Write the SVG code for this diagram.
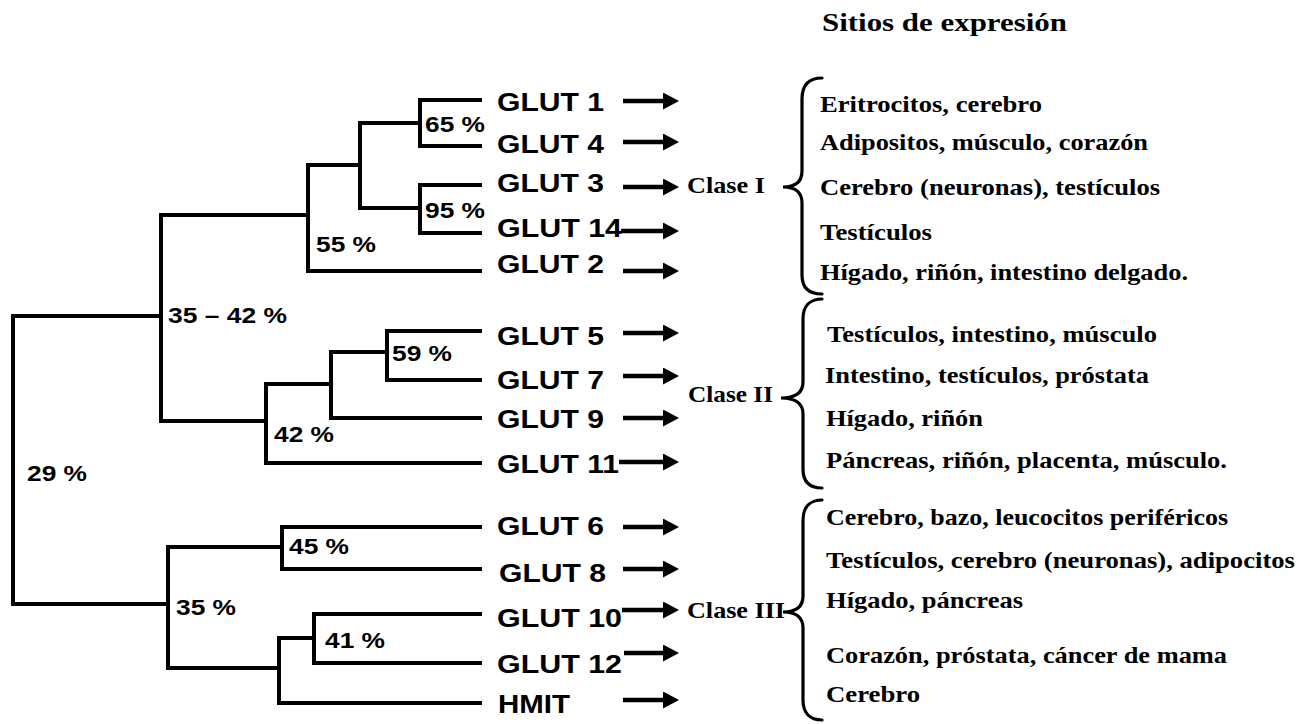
<svg xmlns="http://www.w3.org/2000/svg" width="1302" height="724" viewBox="0 0 1302 724">
<style>
.t{stroke:#000;stroke-width:4;fill:none;stroke-linecap:square}
.a{stroke:#000;stroke-width:4.5;fill:none}
.b{stroke:#000;stroke-width:3.2;fill:none;stroke-linecap:round}
.g{font-family:"Liberation Sans",Arial,sans-serif;font-weight:bold;font-size:26.5px;fill:#000}
.p{font-family:"Liberation Sans",Arial,sans-serif;font-weight:bold;font-size:22px;fill:#000}
.s{font-family:"Liberation Serif","Times New Roman",serif;font-weight:bold;font-size:23.5px;fill:#000}
.h{font-family:"Liberation Serif","Times New Roman",serif;font-weight:bold;font-size:25px;fill:#000}
</style>
<defs>
<marker id="ah" markerUnits="userSpaceOnUse" markerWidth="16" markerHeight="17" viewBox="0 0 16 17" refX="0" refY="8.5" orient="auto">
<path d="M0,0 L16,8.5 L0,17 z" fill="#000"/>
</marker>
</defs>
<rect width="1302" height="724" fill="#fff"/>
<g id="connectors">
<g id="tree">
<path class="t" d="M13,316 V604 M13,316 H161 M13,604 H168"/>
<path class="t" d="M161,215 V421 M161,215 H308 M161,421 H266"/>
<path class="t" d="M308,165 V271 M308,165 H360 M308,271 H480"/>
<path class="t" d="M360,123 V208 M360,123 H420 M360,208 H420"/>
<path class="t" d="M420,100 V146 M420,100 H480 M420,146 H480"/>
<path class="t" d="M420,185 V233 M420,185 H480 M420,233 H480"/>
<path class="t" d="M266,384 V463 M266,384 H331 M266,463 H480"/>
<path class="t" d="M331,352 V418 M331,352 H387 M331,418 H480"/>
<path class="t" d="M387,331 V380 M387,331 H480 M387,380 H480"/>
<path class="t" d="M168,547 V668 M168,547 H282 M168,668 H279"/>
<path class="t" d="M282,527 V569 M282,527 H480 M282,569 H480"/>
<path class="t" d="M279,638 V703 M279,638 H314 M279,703 H480"/>
<path class="t" d="M314,614 V663 M314,614 H480 M314,663 H480"/>
</g>
<g id="arrows">
<line class="a" x1="623" y1="101" x2="663" y2="101" marker-end="url(#ah)"/>
<line class="a" x1="623" y1="142" x2="663" y2="142" marker-end="url(#ah)"/>
<line class="a" x1="623" y1="187" x2="663" y2="187" marker-end="url(#ah)"/>
<line class="a" x1="621" y1="231" x2="663" y2="231" marker-end="url(#ah)"/>
<line class="a" x1="623" y1="271" x2="663" y2="271" marker-end="url(#ah)"/>
<line class="a" x1="623" y1="333" x2="663" y2="333" marker-end="url(#ah)"/>
<line class="a" x1="623" y1="376" x2="663" y2="376" marker-end="url(#ah)"/>
<line class="a" x1="623" y1="418" x2="663" y2="418" marker-end="url(#ah)"/>
<line class="a" x1="619" y1="462" x2="663" y2="462" marker-end="url(#ah)"/>
<line class="a" x1="623" y1="527" x2="663" y2="527" marker-end="url(#ah)"/>
<line class="a" x1="623" y1="569" x2="663" y2="569" marker-end="url(#ah)"/>
<line class="a" x1="622" y1="610" x2="663" y2="610" marker-end="url(#ah)"/>
<line class="a" x1="624" y1="653" x2="663" y2="653" marker-end="url(#ah)"/>
<line class="a" x1="623" y1="700" x2="663" y2="700" marker-end="url(#ah)"/>
</g>
</g>
<g id="percentages">
<text class="p" x="425" y="132" textLength="60" lengthAdjust="spacingAndGlyphs">65 %</text>
<text class="p" x="425" y="218" textLength="60" lengthAdjust="spacingAndGlyphs">95 %</text>
<text class="p" x="316" y="252" textLength="60" lengthAdjust="spacingAndGlyphs">55 %</text>
<text class="p" x="168" y="323" textLength="119" lengthAdjust="spacingAndGlyphs">35 – 42 %</text>
<text class="p" x="392" y="361" textLength="60" lengthAdjust="spacingAndGlyphs">59 %</text>
<text class="p" x="274" y="442" textLength="60" lengthAdjust="spacingAndGlyphs">42 %</text>
<text class="p" x="27" y="481" textLength="60" lengthAdjust="spacingAndGlyphs">29 %</text>
<text class="p" x="289" y="554" textLength="60" lengthAdjust="spacingAndGlyphs">45 %</text>
<text class="p" x="176" y="615" textLength="60" lengthAdjust="spacingAndGlyphs">35 %</text>
<text class="p" x="325" y="648" textLength="60" lengthAdjust="spacingAndGlyphs">41 %</text>
</g>
<g id="glut1"><text class="g" x="497" y="111" textLength="107" lengthAdjust="spacingAndGlyphs">GLUT 1</text></g>
<g id="glut4"><text class="g" x="497" y="153" textLength="107" lengthAdjust="spacingAndGlyphs">GLUT 4</text></g>
<g id="glut3"><text class="g" x="497" y="192" textLength="107" lengthAdjust="spacingAndGlyphs">GLUT 3</text></g>
<g id="glut14"><text class="g" x="497" y="237" textLength="125" lengthAdjust="spacingAndGlyphs">GLUT 14</text></g>
<g id="glut2"><text class="g" x="497" y="273" textLength="107" lengthAdjust="spacingAndGlyphs">GLUT 2</text></g>
<g id="glut5"><text class="g" x="497" y="345" textLength="107" lengthAdjust="spacingAndGlyphs">GLUT 5</text></g>
<g id="glut7"><text class="g" x="497" y="389" textLength="107" lengthAdjust="spacingAndGlyphs">GLUT 7</text></g>
<g id="glut9"><text class="g" x="497" y="428" textLength="107" lengthAdjust="spacingAndGlyphs">GLUT 9</text></g>
<g id="glut11"><text class="g" x="497" y="473" textLength="122" lengthAdjust="spacingAndGlyphs">GLUT 11</text></g>
<g id="glut6"><text class="g" x="497" y="535" textLength="107" lengthAdjust="spacingAndGlyphs">GLUT 6</text></g>
<g id="glut8"><text class="g" x="499" y="582" textLength="107" lengthAdjust="spacingAndGlyphs">GLUT 8</text></g>
<g id="glut10"><text class="g" x="497" y="627" textLength="125" lengthAdjust="spacingAndGlyphs">GLUT 10</text></g>
<g id="glut12"><text class="g" x="497" y="673" textLength="125" lengthAdjust="spacingAndGlyphs">GLUT 12</text></g>
<g id="hmit"><text class="g" x="498" y="713" textLength="72" lengthAdjust="spacingAndGlyphs">HMIT</text></g>
<g id="clase1">
<text class="s" x="687" y="193" textLength="78" lengthAdjust="spacingAndGlyphs">Clase I</text>
<path class="b" d="M822,78 C809,78 802,85 802,99 L802,171 C802,181 796,187 783,187 C796,187 802,193 802,203 L802,275 C802,288 809,294 822,294"/>
</g>
<g id="clase2">
<text class="s" x="688" y="402" textLength="85" lengthAdjust="spacingAndGlyphs">Clase II</text>
<path class="b" d="M822,299 C810,299 803,306 803,319 L803,382 C803,392 797,398 781,398 C797,398 803,404 803,414 L803,469 C803,482 810,488 822,488"/>
</g>
<g id="clase3">
<text class="s" x="687" y="618" textLength="98" lengthAdjust="spacingAndGlyphs">Clase III</text>
<path class="b" d="M822,500 C810,500 803,507 803,520 L803,596 C803,606 797,612 783,612 C797,612 803,618 803,628 L803,700 C803,713 810,720 822,720"/>
</g>
<g id="sitios">
<text class="h" x="822" y="31" textLength="245" lengthAdjust="spacingAndGlyphs">Sitios de expresión</text>
<text class="s" x="820" y="112" textLength="222" lengthAdjust="spacingAndGlyphs">Eritrocitos, cerebro</text>
<text class="s" x="820" y="150" textLength="328" lengthAdjust="spacingAndGlyphs">Adipositos, músculo, corazón</text>
<text class="s" x="820" y="195" textLength="340" lengthAdjust="spacingAndGlyphs">Cerebro (neuronas), testículos</text>
<text class="s" x="820" y="240" textLength="112" lengthAdjust="spacingAndGlyphs">Testículos</text>
<text class="s" x="820" y="280" textLength="368" lengthAdjust="spacingAndGlyphs">Hígado, riñón, intestino delgado.</text>
<text class="s" x="827" y="342" textLength="330" lengthAdjust="spacingAndGlyphs">Testículos, intestino, músculo</text>
<text class="s" x="825" y="383" textLength="324" lengthAdjust="spacingAndGlyphs">Intestino, testículos, próstata</text>
<text class="s" x="826" y="426" textLength="157" lengthAdjust="spacingAndGlyphs">Hígado, riñón</text>
<text class="s" x="826" y="468" textLength="401" lengthAdjust="spacingAndGlyphs">Páncreas, riñón, placenta, músculo.</text>
<text class="s" x="826" y="525" textLength="402" lengthAdjust="spacingAndGlyphs">Cerebro, bazo, leucocitos periféricos</text>
<text class="s" x="826" y="568" textLength="469" lengthAdjust="spacingAndGlyphs">Testículos, cerebro (neuronas), adipocitos</text>
<text class="s" x="826" y="608" textLength="197" lengthAdjust="spacingAndGlyphs">Hígado, páncreas</text>
<text class="s" x="826" y="663" textLength="401" lengthAdjust="spacingAndGlyphs">Corazón, próstata, cáncer de mama</text>
<text class="s" x="826" y="702" textLength="94" lengthAdjust="spacingAndGlyphs">Cerebro</text>
</g>
</svg>
